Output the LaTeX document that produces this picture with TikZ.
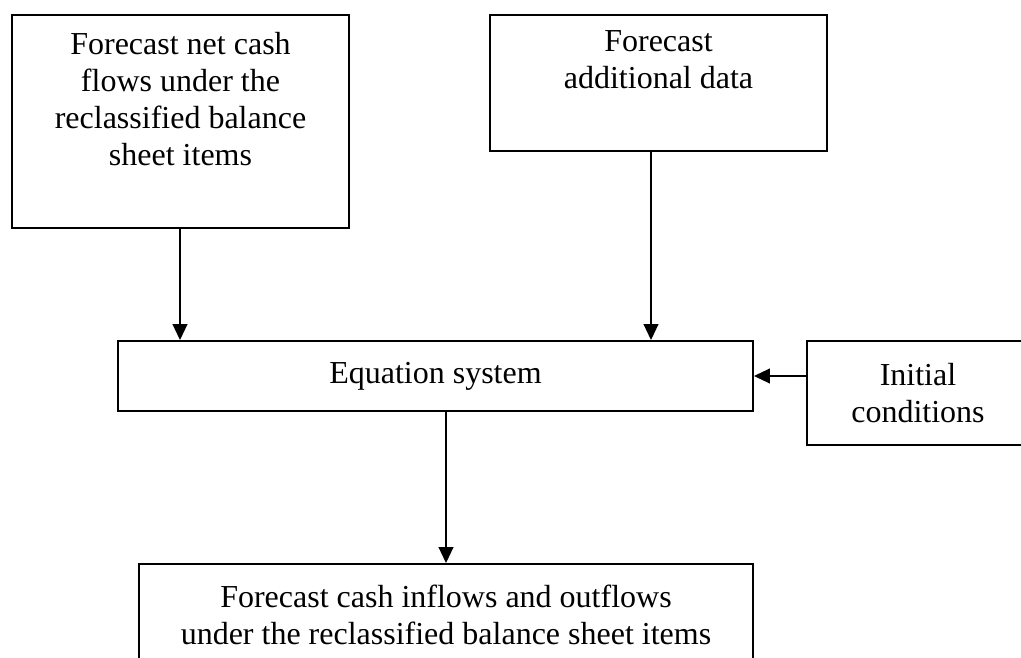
\documentclass[tikz,border=0pt]{standalone}
\usepackage{fontspec}
\setmainfont{Liberation Serif}
\usepackage{tikz}
\usetikzlibrary{arrows.meta, calc}

\begin{document}
\begin{tikzpicture}[x=0.75pt, y=-0.75pt,
    box/.style={draw, rectangle, line width=1.4pt, inner sep=0pt},
    boxtxt/.style={align=center, inner sep=0pt, font=\fontsize{24}{27.75}\selectfont},
    flow/.style={-{Triangle[length=12pt, width=11pt]}, line width=1.5pt}]

%%Paramaters
%% gap between top of a box and its first line of text
\def\txtGap{18}

\clip (0,0) rectangle (1021,657);

    %% top row
    \node[box, minimum width=252.75pt, minimum height=159.75pt] at (180.5, 121.5) (fcast) {};
    \node[boxtxt, anchor=north] at ($(fcast.north) + (0, \txtGap)$) (fcastTxt)
        {Forecast net cash\\flows under the\\reclassified balance\\sheet items};

    \node[box, minimum width=252.75pt, minimum height=102pt] at (658.5, 83) (addl) {};
    \node[boxtxt, anchor=north] at ($(addl.north) + (0, \txtGap - 2)$) (addlTxt)
        {Forecast\\additional data};

    %% middle row
    \node[box, boxtxt, minimum width=476.25pt, minimum height=52.5pt] at (435.5, 376) (eqn) {Equation system};
    \node[box, boxtxt, minimum width=166.5pt, minimum height=78pt] at (918, 393) (init) {Initial\\conditions};

    %% result, cut by the bottom edge
    \node[box, boxtxt, minimum width=460.5pt, minimum height=75.75pt] at (446, 614.5) (out)
        {Forecast cash inflows and outflows\\under the reclassified balance sheet items};

    %% connectors
    \coordinate (fcastOut) at ($(fcast.south) + (-0.5, 0)$);
    \coordinate (addlOut) at ($(addl.south) + (-7.5, 0)$);

    \draw[flow] (fcastOut) -- (fcastOut |- eqn.north);
    \draw[flow] (addlOut) -- (addlOut |- eqn.north);
    \draw[flow] (init.west |- eqn.east) -- (eqn.east);
    \draw[flow] (eqn.south -| out.north) -- (out.north);

\end{tikzpicture}
\end{document}
